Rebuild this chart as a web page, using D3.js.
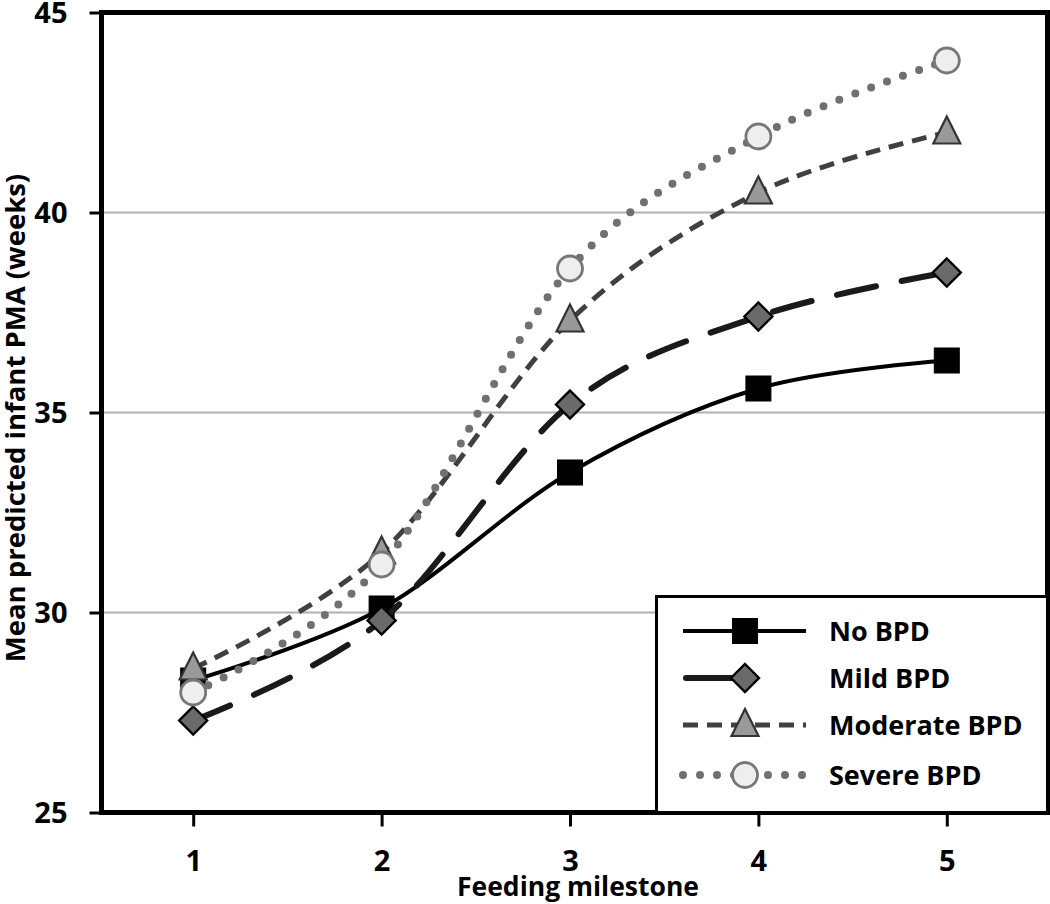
<!DOCTYPE html>
<html><head><meta charset="utf-8">
<script src="https://cdn.jsdelivr.net/npm/d3@7"></script>
<style>body{margin:0;background:#fff}svg{display:block}text{font-family:"Open Sans","Noto Sans",sans-serif;font-weight:700}</style>
</head><body><svg id="c" width="1050" height="904"></svg>
<script>
const milestones = [1, 2, 3, 4, 5];
const noBPD = [28.3, 30.1, 33.5, 35.6, 36.3];
const mildBPD = [27.3, 29.8, 35.2, 37.4, 38.5];
const moderateBPD = [28.6, 31.5, 37.3, 40.5, 42.0];
const severeBPD = [28.0, 31.2, 38.6, 41.9, 43.8];
const yTicks = [25, 30, 35, 40, 45];
const seriesNames = ["No BPD", "Mild BPD", "Moderate BPD", "Severe BPD"];

const series = [
  {name: seriesNames[0], values: noBPD, stroke: "#000", width: 4, dash: null, cap: "butt", marker: "square"},
  {name: seriesNames[1], values: mildBPD, stroke: "#1a1a1a", width: 6, dash: "40,26", cap: "round", marker: "diamond"},
  {name: seriesNames[2], values: moderateBPD, stroke: "#404040", width: 5, dash: "15,9", cap: "butt", marker: "triangle"},
  {name: seriesNames[3], values: severeBPD, stroke: "#707070", width: 8, dash: "0,17", cap: "round", marker: "circle"}
];

const svg = d3.select("#c");
const L = 101.5, R = 1047.5, T = 12.5, B = 812.5;
const x = d3.scalePoint().domain(milestones).range([99, 1041]).padding(0.5);
const y = d3.scaleLinear().domain([25, 45]).range([B, T]);

// gridlines
svg.append("g").selectAll("line").data(yTicks.slice(1, -1)).join("line")
  .attr("x1", L).attr("x2", R).attr("y1", d => y(d)).attr("y2", d => y(d))
  .attr("stroke", "#b0b0b0").attr("stroke-width", 2);

function drawMarker(g, type, cx, cy) {
  if (type === "square") {
    g.append("rect").attr("x", cx - 12.5).attr("y", cy - 12.5).attr("width", 25).attr("height", 25)
      .attr("fill", "#000").attr("stroke", "#000").attr("stroke-width", 1);
  } else if (type === "diamond") {
    const s = 14;
    g.append("path").attr("d", `M${cx},${cy - s}L${cx + s},${cy}L${cx},${cy + s}L${cx - s},${cy}Z`)
      .attr("fill", "#6a6a6a").attr("stroke", "#000").attr("stroke-width", 2.4);
  } else if (type === "triangle") {
    g.append("path").attr("d", `M${cx},${cy - 16}L${cx + 13.5},${cy + 11}L${cx - 13.5},${cy + 11}Z`)
      .attr("fill", "#999").attr("stroke", "#333").attr("stroke-width", 2.2);
  } else {
    g.append("circle").attr("cx", cx).attr("cy", cy).attr("r", 12.5)
      .attr("fill", "#eeeeee").attr("stroke", "#777").attr("stroke-width", 2.8);
  }
}

const line = d3.line().x((d, i) => x(milestones[i])).y(d => y(d)).curve(d3.curveCardinal.tension(0));

series.forEach(s => {
  const g = svg.append("g");
  g.append("path").attr("d", line(s.values)).attr("fill", "none")
    .attr("stroke", s.stroke).attr("stroke-width", s.width)
    .attr("stroke-dasharray", s.dash).attr("stroke-linecap", s.cap);
  s.values.forEach((v, i) => drawMarker(g, s.marker, x(milestones[i]), y(v)));
});

// frame
svg.append("rect").attr("x", L).attr("y", T).attr("width", R - L).attr("height", B - T)
  .attr("fill", "none").attr("stroke", "#000").attr("stroke-width", 5);

// y axis
const yAxis = svg.append("g").attr("transform", `translate(${L},0)`)
  .call(d3.axisLeft(y).tickValues(yTicks).tickSize(12).tickPadding(22));
yAxis.select(".domain").remove();
yAxis.selectAll(".tick line").attr("stroke", "#000").attr("stroke-width", 3);
yAxis.selectAll(".tick text").attr("font-size", 29).attr("fill", "#000").attr("dy", "0.36em");

// x axis
const xAxis = svg.append("g").attr("transform", `translate(0,${B})`)
  .call(d3.axisBottom(x).tickSize(14).tickPadding(0));
xAxis.select(".domain").remove();
xAxis.selectAll(".tick line").attr("stroke", "#000").attr("stroke-width", 3);
xAxis.selectAll(".tick text").attr("font-size", 29).attr("fill", "#000").attr("dy", null).attr("y", 58);

svg.append("text").attr("x", 578).attr("y", 896).attr("text-anchor", "middle")
  .attr("font-size", 26.5).text("Feeding milestone");
svg.append("text").attr("transform", "translate(25,418) rotate(-90)").attr("text-anchor", "middle")
  .attr("font-size", 27.5).text("Mean predicted infant PMA (weeks)");

// legend
const lg = svg.append("g");
lg.append("rect").attr("x", 656.5).attr("y", 596.5).attr("width", R - 656.5).attr("height", B - 596.5)
  .attr("fill", "#fff").attr("stroke", "#000").attr("stroke-width", 3);
const rowY = [631, 678, 725, 775];
series.forEach((s, i) => {
  const yy = rowY[i];
  lg.append("line").attr("x1", 683).attr("x2", 806).attr("y1", yy).attr("y2", yy)
    .attr("stroke", s.stroke).attr("stroke-width", s.width)
    .attr("stroke-dasharray", s.marker === "diamond" ? "46,80" : s.dash)
    .attr("stroke-linecap", s.cap)
    .attr("stroke-dashoffset", s.marker === "diamond" ? -3 : 0);
  drawMarker(lg, s.marker, 745, yy);
  lg.append("text").attr("x", 829).attr("y", yy).attr("dy", "0.36em").attr("font-size", 27).text(s.name);
});
</script></body></html>
